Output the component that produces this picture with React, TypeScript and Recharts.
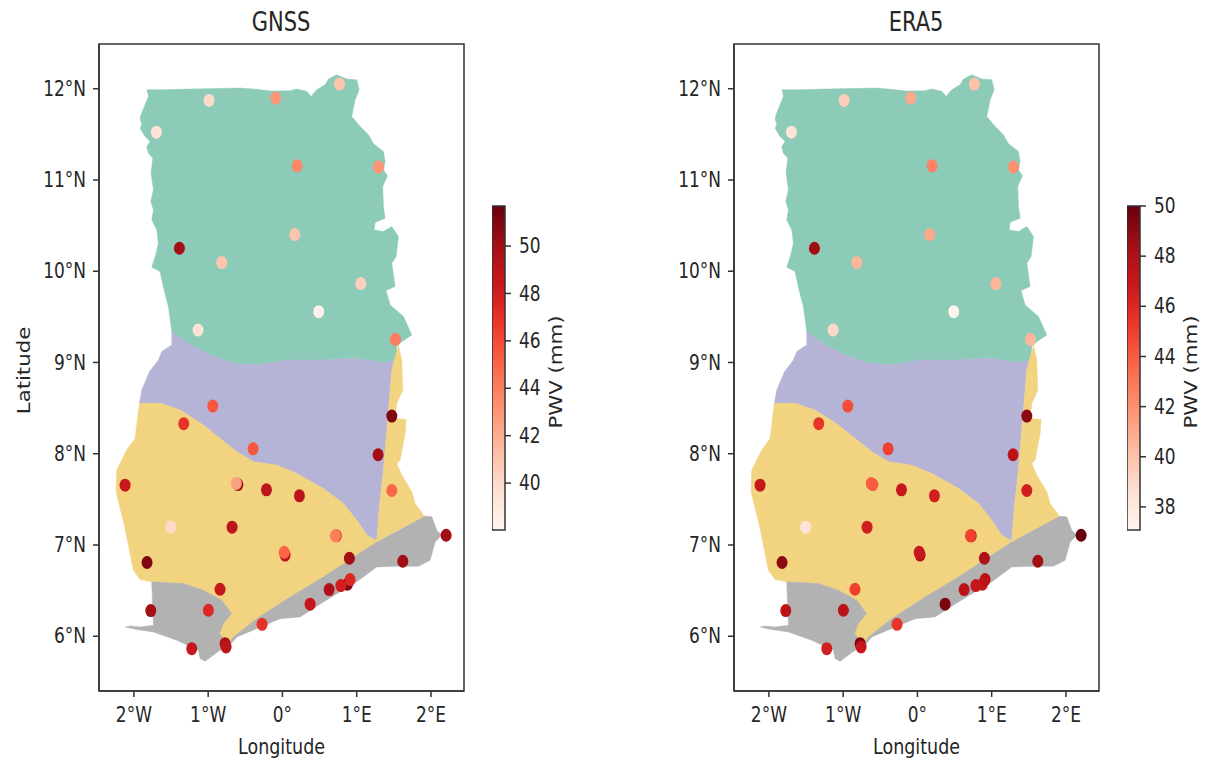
import {
  Bar,
  BarChart,
  Label,
  ReferenceArea,
  Scatter,
  ScatterChart,
  XAxis,
  YAxis,
} from "recharts";

type Pt = [number, number];

const FONT = "DejaVu Sans";
const INK = "#262626";
const FRAME = "#333";
// the source image was stretched vertically, so its text is taller than wide
const STRETCH = 1.25;

// region outlines, [lon, lat]
const northBorder: Pt[] = [
  [-1.827, 11.989], [-1.603, 11.989], [-1.244, 11.996], [-0.57, 12.007], [-0.391, 11.996],
  [-0.144, 11.974], [0.103, 11.978], [0.193, 11.996], [0.328, 11.971], [0.386, 11.916],
  [0.462, 11.989], [0.575, 12.044], [0.62, 12.106], [0.732, 12.153], [0.866, 12.106],
  [1.001, 12.098], [1.033, 11.989], [0.979, 11.879], [0.934, 11.696], [1.046, 11.587],
  [1.158, 11.495], [1.226, 11.397], [1.36, 11.312], [1.383, 11.203], [1.36, 11.111],
  [1.414, 11.046], [1.351, 10.929], [1.36, 10.709], [1.383, 10.581], [1.248, 10.534],
  [1.235, 10.453], [1.36, 10.435], [1.473, 10.49], [1.562, 10.38], [1.531, 10.161],
  [1.473, 10.088], [1.517, 9.832], [1.396, 9.788], [1.45, 9.631], [1.63, 9.503],
  [1.742, 9.301], [1.607, 9.228], [1.54, 9.174],
];
const savannaLine: Pt[] = [
  [1.531, 9.027], [1.36, 8.998], [1.001, 9.045], [0.552, 9.027], [0.058, 9.027],
  [-0.346, 8.972], [-0.66, 8.991], [-0.974, 9.082], [-1.244, 9.192], [-1.49, 9.338],
];
const northWest: Pt[] = [
  [-1.535, 9.612], [-1.594, 9.795], [-1.648, 9.996], [-1.76, 10.044], [-1.706, 10.179],
  [-1.67, 10.307], [-1.692, 10.453], [-1.76, 10.563], [-1.737, 10.673], [-1.773, 10.764],
  [-1.737, 10.892], [-1.769, 11.075], [-1.746, 11.239], [-1.805, 11.294], [-1.827, 11.367],
  [-1.782, 11.422], [-1.85, 11.477], [-1.917, 11.568], [-1.895, 11.605], [-1.917, 11.678],
  [-1.895, 11.733], [-1.85, 11.824], [-1.805, 11.916],
];
const middleWest: Pt[] = [
  [-1.49, 9.192], [-1.625, 9.119], [-1.67, 9.027], [-1.791, 8.899], [-1.894, 8.698],
];
const forestLine: Pt[] = [
  [-1.926, 8.552], [-1.648, 8.552], [-1.378, 8.479], [-1.064, 8.314], [-0.84, 8.168],
  [-0.615, 8.022], [-0.391, 7.912], [-0.076, 7.875], [0.193, 7.784], [0.552, 7.619],
  [0.822, 7.455], [1.001, 7.272], [1.136, 7.107], [1.27, 7.045],
];
const middleEast: Pt[] = [
  [1.306, 7.418], [1.36, 7.82], [1.428, 8.479], [1.473, 8.917], [1.531, 9.1],
];
const eastStrip: Pt[] = [
  [1.562, 9.19], [1.607, 9.027], [1.621, 8.698], [1.54, 8.552], [1.517, 8.387],
  [1.666, 8.376], [1.652, 8.223], [1.585, 7.93], [1.54, 7.894], [1.607, 7.766],
  [1.742, 7.583], [1.787, 7.455], [1.912, 7.316],
];
const coastLine: Pt[] = [
  [1.27, 7.034], [0.552, 6.65], [0.103, 6.431], [-0.346, 6.193], [-0.66, 5.992], [-0.727, 5.919],
];
const westernBay: Pt[] = [
  [-0.848, 6.029], [-0.795, 6.139], [-0.682, 6.248], [-0.817, 6.394], [-1.064, 6.504],
  [-1.333, 6.577], [-1.76, 6.596],
];
const forestWest: Pt[] = [
  [-1.917, 6.621], [-2.007, 6.724], [-2.119, 7.181], [-2.24, 7.583], [-2.231, 7.82],
  [-2.097, 8.04], [-1.984, 8.168],
];
const southCoast: Pt[] = [
  [1.912, 7.316], [2.011, 7.309], [2.079, 7.162], [2.146, 7.107], [2.056, 7.034],
  [1.989, 6.833], [1.832, 6.767], [1.54, 6.767], [1.27, 6.76], [1.001, 6.596],
  [0.552, 6.376], [0.238, 6.212], [-0.031, 6.193], [-0.346, 6.084], [-0.615, 5.992],
  [-0.727, 5.882], [-0.84, 5.846], [-1.042, 5.725], [-1.109, 5.755], [-1.131, 5.846],
  [-1.423, 5.956], [-1.737, 6.047], [-1.962, 6.073], [-2.119, 6.102], [-2.052, 6.113],
  [-1.917, 6.102], [-1.737, 6.12],
];

const northZone = [...northBorder, ...savannaLine, ...northWest];
const middleZone = [...savannaLine, ...middleWest, ...forestLine, ...middleEast];
const forestZone = [
  ...eastStrip,
  ...coastLine,
  ...westernBay,
  ...forestWest,
  ...forestLine,
  ...middleEast,
];
const coastZone = [
  ...southCoast,
  ...[...westernBay].reverse(),
  ...[...coastLine].reverse(),
];

const regions: { name: string; pts: Pt[]; color: string }[] = [
  { name: "north", pts: northZone, color: "#8ccbb7" },
  { name: "middle", pts: middleZone, color: "#b5b4d7" },
  { name: "forest", pts: forestZone, color: "#f2d37f" },
  { name: "coast", pts: coastZone, color: "#b2b2b2" },
];

// stations
const stationLon = [
  -0.988, -0.09, 0.768, -1.697, 0.198, 1.293, 0.166, -1.387, -0.817, 1.055, 0.489, -1.136, 1.522,
  -0.938, -1.329, 1.473, -0.395, 1.288, -2.119, -0.6, -0.622, -0.215, 0.229, 1.473, -1.504, -0.678,
  0.725, 0.714, 0.036, 0.024, 0.902, -1.823, 1.621, -0.84, -1.773, -0.997, 0.629, 0.875, 0.786,
  0.911, 0.373, -0.274, -1.221, -0.772, -0.759, 2.204,
];
const stationLat = [
  11.872, 11.897, 12.051, 11.524, 11.155, 11.141, 10.402, 10.252, 10.095, 9.865, 9.557, 9.356, 9.254,
  8.522, 8.329, 8.413, 8.054, 7.989, 7.656, 7.662, 7.675, 7.605, 7.539, 7.597, 7.195, 7.195,
  7.1, 7.1, 6.89, 6.92, 6.855, 6.808, 6.822, 6.515, 6.281, 6.285, 6.511, 6.57, 6.555,
  6.621, 6.351, 6.131, 5.864, 5.919, 5.882, 7.107,
];
const gnssPwv = [
  40, 43, 41, 39.5, 43.5, 43, 41, 50, 41, 40.5, 38.4, 39.5, 44,
  45.5, 47, 51, 45.5, 50, 48.5, 50, 42.5, 49, 49, 45, 40, 49,
  47.5, 44, 49, 45, 50, 51, 50, 48.5, 50, 47.5, 49.5, 51, 48,
  47.5, 48.5, 47, 48.5, 49.5, 49, 50,
];
const era5Pwv = [
  39.5, 41, 40, 38.5, 42.5, 42, 41, 48.5, 40.5, 40.5, 37.2, 39, 40.5,
  44.5, 45.5, 49, 45, 47.5, 47, 44, 44, 47, 46.5, 46.5, 38.5, 46.5,
  47, 45, 47.5, 47, 48, 49, 48.5, 45, 47.5, 47.5, 47.5, 47, 47,
  47.5, 49.5, 45.5, 46.5, 49.5, 47, 50,
];

const lonTicks = [-2, -1, 0, 1, 2];
const latTicks = [6, 7, 8, 9, 10, 11, 12];
const reds = [
  "#fff5f0", "#fee0d2", "#fcbba1", "#fc9272", "#fb6a4a", "#ef3b2c", "#cb181d", "#a50f15", "#67000d",
];

const redAt = (t: number) => {
  const p = Math.max(0, Math.min(1, t)) * (reds.length - 1);
  const i = Math.min(Math.floor(p), reds.length - 2);
  const f = p - i;
  const ch = (hex: string, o: number) => parseInt(hex.slice(o, o + 2), 16);
  const mix = (o: number) =>
    Math.round(ch(reds[i], o) + (ch(reds[i + 1], o) - ch(reds[i], o)) * f);
  return `rgb(${mix(1)},${mix(3)},${mix(5)})`;
};

const lonLabel = (v: number) => (v === 0 ? "0°" : `${Math.abs(v)}°${v < 0 ? "W" : "E"}`);

const noMark = () => <g />;

const TallText = ({
  x,
  y,
  text,
  anchor = "middle",
  size = 17,
  vertical = false,
}: {
  x: number;
  y: number;
  text: string;
  anchor?: string;
  size?: number;
  vertical?: boolean;
}) => (
  <text
    transform={`translate(${x} ${y}) scale(1 ${STRETCH})${vertical ? " rotate(-90)" : ""}`}
    textAnchor={anchor}
    dominantBaseline="central"
    fontFamily={FONT}
    fontSize={size}
    fill={INK}
  >
    {text}
  </text>
);

const Panel = ({
  title,
  left,
  pwv,
  min,
  max,
  ticks,
  showLat,
}: {
  title: string;
  left: number;
  pwv: number[];
  min: number;
  max: number;
  ticks: number[];
  showLat: boolean;
}) => {
  const stations = stationLon.map((lon, i) => ({ lon, lat: stationLat[i], pwv: pwv[i] }));
  const gradId = `reds-${title}`;

  return (
    <>
      <svg
        width={365}
        height={44}
        style={{ position: "absolute", left: left + 99, top: 0 }}
      >
        <TallText x={182} y={22.5} text={title} size={21} />
      </svg>
      <div style={{ position: "absolute", left, top: 0 }}>
        <ScatterChart
          width={500}
          height={765}
          margin={{ top: 44, right: 36, bottom: 34, left: 39 }}
        >
          <XAxis
            type="number"
            dataKey="lon"
            domain={[-2.47, 2.445]}
            ticks={lonTicks}
            interval={0}
            height={40}
            tick={(p: any) => (
              <TallText x={p.x} y={715} text={lonLabel(p.payload.value)} />
            )}
            axisLine={{ stroke: FRAME, strokeWidth: 1.5 }}
            tickLine={{ stroke: FRAME, strokeWidth: 1.5 }}
            tickSize={6}
          >
            <Label
              content={(p: any) => (
                <TallText
                  x={p.viewBox.x + p.viewBox.width / 2}
                  y={747}
                  text="Longitude"
                  size={17.5}
                />
              )}
            />
          </XAxis>
          <YAxis
            type="number"
            dataKey="lat"
            domain={[5.4, 12.49]}
            ticks={latTicks}
            interval={0}
            width={60}
            tick={(p: any) => (
              <TallText x={86} y={p.y} anchor="end" text={`${p.payload.value}°N`} />
            )}
            axisLine={{ stroke: FRAME, strokeWidth: 1.5 }}
            tickLine={{ stroke: FRAME, strokeWidth: 1.5 }}
            tickSize={6}
          >
            {showLat && (
              <Label
                content={(p: any) => (
                  <TallText
                    x={24}
                    y={p.viewBox.y + p.viewBox.height / 2 + 3}
                    text="Latitude"
                    vertical
                  />
                )}
              />
            )}
          </YAxis>
          {regions.map((r) => (
            <Scatter
              key={r.name}
              data={r.pts.map(([lon, lat]) => ({ lon, lat }))}
              fill={r.color}
              line={{ fill: r.color, stroke: r.color, strokeWidth: 0.5 }}
              shape={noMark}
              isAnimationActive={false}
            />
          ))}
          <Scatter
            data={stations}
            shape={(p: any) => (
              <ellipse
                cx={p.cx}
                cy={p.cy}
                rx={5.5}
                ry={6.5}
                fill={redAt((p.payload.pwv - min) / (max - min))}
              />
            )}
            isAnimationActive={false}
          />
          <ReferenceArea
            x1={-2.47}
            x2={2.445}
            y1={5.4}
            y2={12.49}
            fill="none"
            stroke={FRAME}
            strokeWidth={1.5}
          />
        </ScatterChart>
      </div>
      <div style={{ position: "absolute", left: left + 492, top: 186 }}>
        <BarChart
          width={100}
          height={364}
          data={[{ name: "PWV", range: [min, max] }]}
          margin={{ top: 20, right: 0, bottom: 20, left: 0 }}
          barCategoryGap={0}
        >
          <defs>
            <linearGradient id={gradId} x1="0" y1="1" x2="0" y2="0">
              {reds.map((c, i) => (
                <stop key={c} offset={i / (reds.length - 1)} stopColor={c} />
              ))}
            </linearGradient>
          </defs>
          <XAxis dataKey="name" hide />
          <YAxis
            orientation="right"
            type="number"
            domain={[min, max]}
            ticks={ticks}
            interval={0}
            width={87}
            tick={(p: any) => (
              <TallText x={27} y={p.y} anchor="start" text={String(p.payload.value)} />
            )}
            axisLine={false}
            tickLine={{ stroke: FRAME, strokeWidth: 1.5 }}
            tickSize={6}
          >
            <Label
              content={(p: any) => (
                <TallText
                  x={64}
                  y={p.viewBox.y + p.viewBox.height / 2 + 4}
                  text="PWV (mm)"
                  vertical
                />
              )}
            />
          </YAxis>
          <Bar
            dataKey="range"
            fill={`url(#${gradId})`}
            stroke={FRAME}
            strokeWidth={1.5}
            isAnimationActive={false}
          />
        </BarChart>
      </div>
    </>
  );
};

export default function App() {
  return (
    <div
      style={{
        position: "absolute",
        left: 0,
        top: 0,
        width: 1217,
        height: 765,
        background: "#fff",
        overflow: "hidden",
      }}
    >
      <Panel
        title="GNSS"
        left={0}
        pwv={gnssPwv}
        min={38.02}
        max={51.69}
        ticks={[40, 42, 44, 46, 48, 50]}
        showLat
      />
      <Panel
        title="ERA5"
        left={635}
        pwv={era5Pwv}
        min={37.08}
        max={50}
        ticks={[38, 40, 42, 44, 46, 48, 50]}
        showLat={false}
      />
    </div>
  );
}
